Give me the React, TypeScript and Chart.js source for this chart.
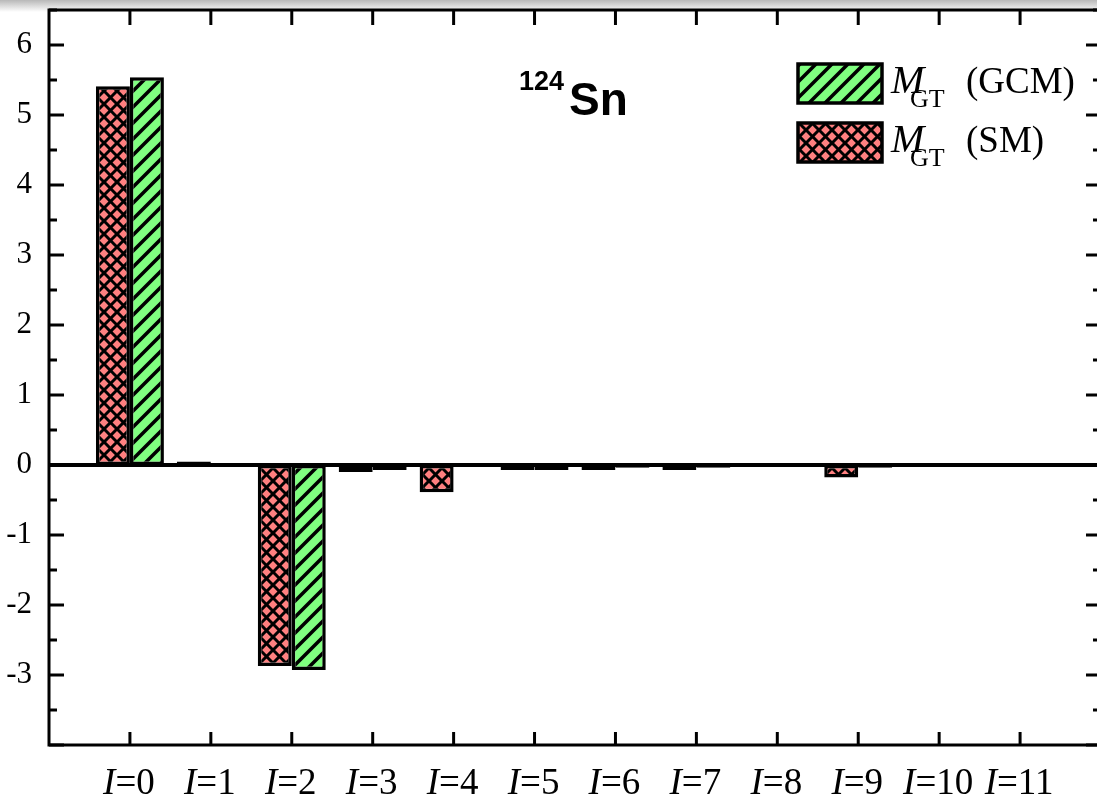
import React, { useEffect, useRef } from 'react';
import { Chart, registerables } from 'chart.js';

Chart.register(...registerables);

// ---- data ----
const categories = ['0', '1', '2', '3', '4', '5', '6', '7', '8', '9', '10', '11'];
const smValues = [5.41, 0.05, -2.87, -0.1, -0.39, -0.07, -0.07, -0.07, 0, -0.18, 0, 0];
const gcmValues = [5.54, 0, -2.93, -0.07, 0.03, -0.07, -0.04, -0.04, 0, -0.04, 0, 0];
const yTickLabels = [-3, -2, -1, 0, 1, 2, 3, 4, 5, 6];
const seriesNames = ['(GCM)', '(SM)'];
const titleMass = '124';
const titleElement = 'Sn';

const Y_MIN = -4;
const Y_MAX = 6.5;
const X_MIN = -1;
const X_MAX = 12;

const GREEN = '#80ff80';
const RED = '#ff8080';

function makePattern(bg: string, cross: boolean, period: number, lw: number) {
  const c = document.createElement('canvas');
  c.width = period;
  c.height = period;
  const g = c.getContext('2d')!;
  g.fillStyle = bg;
  g.fillRect(0, 0, period, period);
  g.strokeStyle = '#000';
  g.lineWidth = lw;
  g.lineCap = 'square';
  for (const o of [-period, 0, period]) {
    g.beginPath();
    g.moveTo(o - period, 2 * period);
    g.lineTo(o + 2 * period, -period);
    g.stroke();
  }
  if (cross) {
    for (const o of [-period, 0, period]) {
      g.beginPath();
      g.moveTo(o - period, -period);
      g.lineTo(o + 2 * period, 2 * period);
      g.stroke();
    }
  }
  return g.createPattern(c, 'repeat')!;
}

export default function App() {
  const ref = useRef<HTMLCanvasElement | null>(null);

  useEffect(() => {
    const canvas = ref.current!;
    const greenPat = makePattern(GREEN, false, 16, 3.5);
    const redPat = makePattern(RED, true, 13, 3);

    const line = (ctx: CanvasRenderingContext2D, x1: number, y1: number, x2: number, y2: number) => {
      ctx.beginPath();
      ctx.moveTo(x1, y1);
      ctx.lineTo(x2, y2);
      ctx.stroke();
    };

    const decor = {
      id: 'decor',
      afterDatasetsDraw(chart: any) {
        const { ctx, chartArea: a, scales } = chart;
        const x = scales.x;
        const y = scales.y;
        ctx.save();
        ctx.strokeStyle = '#000';
        ctx.lineCap = 'butt';

        // zero line
        ctx.lineWidth = 4;
        const y0 = y.getPixelForValue(0);
        line(ctx, a.left, y0, a.right, y0);

        // frame
        ctx.lineWidth = 3;
        ctx.strokeRect(a.left, a.top, a.right - a.left, a.bottom - a.top);

        // y ticks (inward, both sides)
        ctx.lineWidth = 3;
        for (let v = Y_MIN; v <= Y_MAX + 1e-9; v += 0.5) {
          const py = y.getPixelForValue(v);
          const len = Math.abs(v - Math.round(v)) < 1e-9 ? 15 : 8;
          line(ctx, a.left, py, a.left + len, py);
          line(ctx, a.right, py, a.right - len, py);
        }
        // x ticks
        categories.forEach((_, i) => {
          const px = x.getPixelForValue(i);
          line(ctx, px, a.top, px, a.top + 15);
          line(ctx, px, a.bottom, px, a.bottom - 13);
        });

        // x labels: italic I + "=n"
        ctx.fillStyle = '#000';
        ctx.textBaseline = 'alphabetic';
        ctx.textAlign = 'left';
        const fItal = 'italic 37px "Liberation Serif", "Times New Roman", serif';
        const fReg = '37px "Liberation Serif", "Times New Roman", serif';
        categories.forEach((c, i) => {
          const px = x.getPixelForValue(i);
          ctx.font = fItal;
          const w1 = ctx.measureText('I').width;
          ctx.font = fReg;
          const rest = '=' + c;
          const w2 = ctx.measureText(rest).width;
          const start = px - (w1 + w2) / 2 - 1;
          ctx.font = fItal;
          ctx.fillText('I', start, 794);
          ctx.font = fReg;
          ctx.fillText(rest, start + w1, 794);
        });

        // title 124Sn
        ctx.font = 'bold 27px "Liberation Sans", Arial, sans-serif';
        ctx.fillText(titleMass, 519, 90);
        ctx.font = 'bold 46px "Liberation Sans", Arial, sans-serif';
        ctx.fillText(titleElement, 569, 115);

        // legend
        const pats = [greenPat, redPat];
        seriesNames.forEach((name, k) => {
          const top = 64 + k * 59;
          ctx.fillStyle = pats[k];
          ctx.fillRect(798, top, 84, 39);
          ctx.lineWidth = 3.5;
          ctx.strokeRect(798, top, 84, 39);
          ctx.fillStyle = '#000';
          ctx.font = 'italic 40px "Liberation Serif", "Times New Roman", serif';
          ctx.fillText('M', 891, top + 29);
          ctx.font = '26px "Liberation Serif", "Times New Roman", serif';
          ctx.fillText('GT', 910, top + 43);
          ctx.font = '37px "Liberation Serif", "Times New Roman", serif';
          ctx.fillText(name, 966, top + 29);
        });

        ctx.restore();
      },
    };

    const chart = new Chart(canvas, {
      type: 'bar',
      data: {
        datasets: [
          {
            label: 'M_GT (SM)',
            data: smValues.map((v, i) => ({ x: i, y: v })),
            backgroundColor: redPat,
            borderColor: '#000',
            borderWidth: 3.5,
            borderSkipped: false,
            categoryPercentage: 0.84,
            barPercentage: 1,
          },
          {
            label: 'M_GT (GCM)',
            data: gcmValues.map((v, i) => ({ x: i, y: v })),
            backgroundColor: greenPat,
            borderColor: '#000',
            borderWidth: 3.5,
            borderSkipped: false,
            categoryPercentage: 0.84,
            barPercentage: 1,
          },
        ],
      },
      options: {
        responsive: false,
        animation: false,
        layout: { padding: { top: 10, right: 9, left: 0, bottom: 0 } },
        plugins: {
          legend: { display: false },
          tooltip: { enabled: false },
          title: { display: false },
        },
        scales: {
          x: {
            type: 'linear',
            min: X_MIN,
            max: X_MAX,
            offset: false,
            grid: { display: false },
            border: { display: false },
            ticks: { display: false, stepSize: 1 },
            afterFit: (s: any) => {
              s.height = 57;
              s.paddingLeft = 0;
              s.paddingRight = 0;
            },
          },
          y: {
            type: 'linear',
            min: Y_MIN,
            max: Y_MAX,
            grid: { display: false, drawTicks: false },
            border: { display: false },
            ticks: {
              stepSize: 0.5,
              padding: 17,
              autoSkip: false,
              color: '#000',
              font: { family: '"Liberation Serif", "Times New Roman", serif', size: 31 },
              callback: (v: any) => (yTickLabels.includes(v) ? String(v) : ''),
            },
            afterFit: (s: any) => {
              s.width = 49;
              s.paddingTop = 0;
              s.paddingBottom = 0;
            },
          },
        },
      },
      plugins: [decor],
    } as any);

    return () => chart.destroy();
  }, []);

  return (
    <div style={{ position: 'fixed', left: 0, top: 0, width: '100vw', height: '100vh', overflow: 'hidden', background: '#fff' }}>
      <div
        style={{
          position: 'absolute',
          left: 0,
          top: 0,
          right: 0,
          height: 12,
          background: 'linear-gradient(#b8b8b8, #ffffff)',
        }}
      />
      <canvas ref={ref} width={1110} height={802} style={{ position: 'absolute', left: 0, top: 0, display: 'block' }} />
    </div>
  );
}
